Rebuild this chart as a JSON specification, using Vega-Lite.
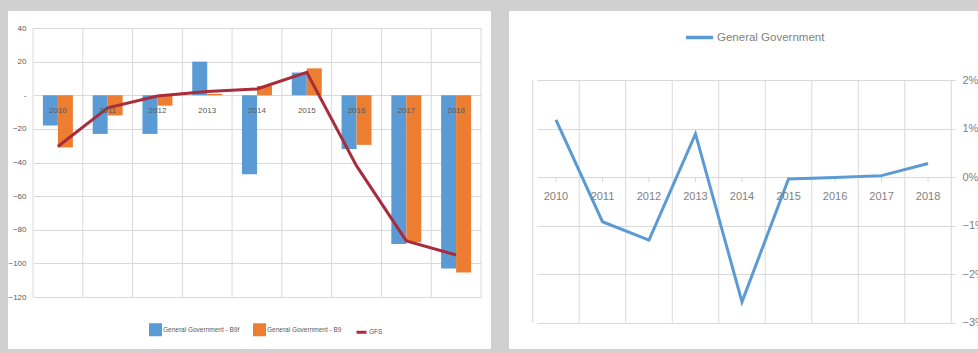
{
  "$schema": "https://vega.github.io/schema/vega-lite/v6.json",
  "background": "#d0d0d0",
  "padding": {"left": 7, "top": 11, "right": 0, "bottom": 4},
  "bounds": "flush",
  "spacing": 18,
  "config": {
    "font": "Liberation Sans",
    "axis": {"labelFont": "Liberation Sans"},
    "legend": {"labelFont": "Liberation Sans"},
    "text": {"font": "Liberation Sans"},
    "view": {"stroke": null}
  },
  "datasets": {
    "bars": [
      {"year": "2010", "series": "General Government - B9f", "value": -18},
      {"year": "2010", "series": "General Government - B9", "value": -31},
      {"year": "2011", "series": "General Government - B9f", "value": -23},
      {"year": "2011", "series": "General Government - B9", "value": -12},
      {"year": "2012", "series": "General Government - B9f", "value": -23},
      {"year": "2012", "series": "General Government - B9", "value": -6.2},
      {"year": "2013", "series": "General Government - B9f", "value": 20},
      {"year": "2013", "series": "General Government - B9", "value": 0.8},
      {"year": "2014", "series": "General Government - B9f", "value": -47},
      {"year": "2014", "series": "General Government - B9", "value": 5.5},
      {"year": "2015", "series": "General Government - B9f", "value": 13.5},
      {"year": "2015", "series": "General Government - B9", "value": 16},
      {"year": "2016", "series": "General Government - B9f", "value": -32},
      {"year": "2016", "series": "General Government - B9", "value": -29.5},
      {"year": "2017", "series": "General Government - B9f", "value": -88.5},
      {"year": "2017", "series": "General Government - B9", "value": -87.5},
      {"year": "2018", "series": "General Government - B9f", "value": -103},
      {"year": "2018", "series": "General Government - B9", "value": -105.5}
    ],
    "gfs": [
      {"year": "2010", "value": -30.5},
      {"year": "2011", "value": -7.5},
      {"year": "2012", "value": -0.5},
      {"year": "2013", "value": 2.3},
      {"year": "2014", "value": 3.7},
      {"year": "2015", "value": 13.6},
      {"year": "2016", "value": -42},
      {"year": "2017", "value": -86.6},
      {"year": "2018", "value": -95}
    ],
    "gg": [
      {"year": "2010", "value": 0.0118},
      {"year": "2011", "value": -0.0092},
      {"year": "2012", "value": -0.013},
      {"year": "2013", "value": 0.0089},
      {"year": "2014", "value": -0.0257},
      {"year": "2015", "value": -0.0004},
      {"year": "2016", "value": -0.0001},
      {"year": "2017", "value": 0.0003},
      {"year": "2018", "value": 0.0028}
    ]
  },
  "hconcat": [
    {
      "width": 483,
      "height": 338,
      "view": {"fill": "white", "stroke": null},
      "layer": [
        {
          "data": {"name": "gfs"},
          "mark": {"type": "rule", "color": "#d9d9d9", "strokeWidth": 1},
          "encoding": {
            "x": {
              "field": "year", "type": "ordinal", "bandPosition": 0,
              "scale": {"range": [25, 473], "paddingInner": 0, "paddingOuter": 0},
              "axis": null
            },
            "y": {
              "datum": 40, "type": "quantitative",
              "scale": {"domain": [-120, 40], "range": [286, 17], "nice": false, "zero": false},
              "axis": {"orient": "left", "offset": -20, "values": [-120, -100, -80, -60, -40, -20, 0, 20, 40], "domain": false, "ticks": false, "labelPadding": 2, "labelFontSize": 8, "labelColor": "#595959", "labelExpr": "datum.value == 0 ? '-' : datum.label", "title": null, "grid": true, "gridColor": "#d9d9d9", "gridWidth": 1}
            },
            "y2": {"datum": -120}
          }
        },
        {
          "data": {"name": "gfs"},
          "transform": [{"filter": "datum.year == '2018'"}],
          "mark": {"type": "rule", "color": "#d9d9d9", "strokeWidth": 1},
          "encoding": {
            "x": {"field": "year", "type": "ordinal", "bandPosition": 1},
            "y": {"datum": 40, "type": "quantitative"},
            "y2": {"datum": -120}
          }
        },
        {
          "data": {"name": "bars"},
          "mark": {"type": "bar"},
          "encoding": {
            "x": {"field": "year", "type": "ordinal"},
            "xOffset": {
              "field": "series", "type": "nominal",
              "scale": {"domain": ["General Government - B9f", "General Government - B9"], "paddingInner": 0, "paddingOuter": 0.66}
            },
            "y": {"field": "value", "type": "quantitative"},
            "color": {
              "field": "series", "type": "nominal",
              "scale": {"domain": ["General Government - B9f", "General Government - B9", "GFS"], "range": ["#5B9BD5", "#ED7D31", "#A82C3C"]},
              "legend": {
                "orient": "none", "legendX": 141, "legendY": 312, "direction": "horizontal", "title": null,
                "labelFontSize": 6.5, "labelColor": "#595959", "symbolSize": 100, "columnPadding": 8, "labelOffset": 1,
                "encode": {
                  "symbols": {
                    "update": {
                      "shape": {"signal": "datum.value == 'GFS' ? 'stroke' : 'square'"},
                      "fill": {"signal": "datum.value == 'GFS' ? 'transparent' : (datum.value == 'General Government - B9' ? '#ED7D31' : '#5B9BD5')"},
                      "stroke": {"signal": "datum.value == 'GFS' ? '#A82C3C' : 'transparent'"},
                      "strokeWidth": {"value": 3}
                    }
                  }
                }
              }
            }
          }
        },
        {
          "data": {"name": "gfs"},
          "mark": {"type": "line", "strokeWidth": 3},
          "encoding": {
            "x": {"field": "year", "type": "ordinal"},
            "y": {"field": "value", "type": "quantitative"},
            "color": {"datum": "GFS", "type": "nominal"}
          }
        },
        {
          "data": {"name": "gfs"},
          "mark": {"type": "text", "baseline": "top", "dy": 12, "fontSize": 8, "color": "#595959"},
          "encoding": {
            "x": {"field": "year", "type": "ordinal"},
            "y": {"datum": 0, "type": "quantitative"},
            "text": {"field": "year"}
          }
        }
      ]
    },
    {
      "width": 470,
      "height": 338,
      "view": {"fill": "white", "stroke": null},
      "layer": [
        {
          "data": {"name": "gg"},
          "mark": {"type": "rule", "color": "#d9d9d9", "strokeWidth": 1},
          "encoding": {
            "x": {
              "field": "year", "type": "ordinal", "bandPosition": 0,
              "scale": {"range": [23.7, 442.3], "paddingInner": 0, "paddingOuter": 0},
              "axis": null
            },
            "y": {
              "datum": 0.02, "type": "quantitative",
              "scale": {"domain": [-0.03, 0.02], "range": [311.7, 69], "nice": false, "zero": false},
              "axis": {"orient": "right", "offset": -19, "values": [-0.03, -0.02, -0.01, 0, 0.01, 0.02], "format": ".0%", "domain": false, "ticks": false, "labelPadding": 2, "labelFontSize": 11, "labelColor": "#7f7f7f", "title": null, "grid": true, "gridColor": "#d9d9d9", "gridWidth": 1}
            },
            "y2": {"datum": -0.03}
          }
        },
        {
          "data": {"name": "gg"},
          "transform": [{"filter": "datum.year == '2018'"}],
          "mark": {"type": "rule", "color": "#d9d9d9", "strokeWidth": 1},
          "encoding": {
            "x": {"field": "year", "type": "ordinal", "bandPosition": 1},
            "y": {"datum": 0.02, "type": "quantitative"},
            "y2": {"datum": -0.03}
          }
        },
        {
          "data": {"name": "gg"},
          "mark": {"type": "rule", "color": "#d9d9d9", "strokeWidth": 1},
          "encoding": {
            "x": {"field": "year", "type": "ordinal"},
            "y": {"datum": 0, "type": "quantitative"},
            "y2": {"datum": -0.0011}
          }
        },
        {
          "data": {"name": "gg"},
          "mark": {"type": "line", "strokeWidth": 3},
          "encoding": {
            "x": {"field": "year", "type": "ordinal"},
            "y": {"field": "value", "type": "quantitative"},
            "color": {
              "datum": "General Government", "type": "nominal",
              "scale": {"range": ["#5B9BD5"]},
              "legend": {"orient": "none", "legendX": 175, "legendY": 11, "title": null, "symbolType": "stroke", "symbolSize": 729, "symbolStrokeWidth": 3.5, "labelFontSize": 11.5, "labelColor": "#7f7f7f", "labelOffset": 2}
            }
          }
        },
        {
          "data": {"name": "gg"},
          "mark": {"type": "text", "baseline": "top", "dy": 13.5, "fontSize": 11, "color": "#7f7f7f"},
          "encoding": {
            "x": {"field": "year", "type": "ordinal"},
            "y": {"datum": 0, "type": "quantitative"},
            "text": {"field": "year"}
          }
        }
      ]
    }
  ],
  "resolve": {
    "scale": {"color": "independent", "x": "independent", "y": "independent"},
    "legend": {"color": "independent"}
  }
}
